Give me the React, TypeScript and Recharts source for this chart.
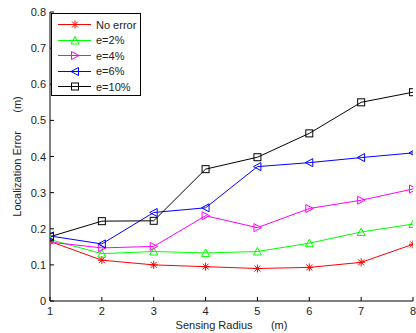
import React from "react";
import { LineChart, Line, XAxis, YAxis } from "recharts";

const radius = [1, 2, 3, 4, 5, 6, 7, 8];
const noError = [0.165, 0.113, 0.1, 0.095, 0.09, 0.093, 0.107, 0.157];
const e2 = [0.17, 0.131, 0.137, 0.133, 0.137, 0.16, 0.191, 0.213];
const e4 = [0.163, 0.147, 0.151, 0.236, 0.203, 0.256, 0.279, 0.31];
const e6 = [0.18, 0.158, 0.245, 0.258, 0.372, 0.383, 0.397, 0.41];
const e10 = [0.178, 0.221, 0.222, 0.365, 0.398, 0.464, 0.55, 0.578];
const yTicks = [0, 0.1, 0.2, 0.3, 0.4, 0.5, 0.6, 0.7, 0.8];
const xTicks = [1, 2, 3, 4, 5, 6, 7, 8];

type Shape = "star" | "up" | "right" | "left" | "square";

const series: { key: string; name: string; color: string; shape: Shape; values: number[] }[] = [
  { key: "noError", name: "No error", color: "#ff0000", shape: "star", values: noError },
  { key: "e2", name: "e=2%", color: "#00ff00", shape: "up", values: e2 },
  { key: "e4", name: "e=4%", color: "#ff00ff", shape: "right", values: e4 },
  { key: "e6", name: "e=6%", color: "#0000ff", shape: "left", values: e6 },
  { key: "e10", name: "e=10%", color: "#000000", shape: "square", values: e10 },
];

const data = radius.map((r, i) => {
  const row: Record<string, number> = { r };
  series.forEach((s) => (row[s.key] = s.values[i]));
  return row;
});

const FONT = "'Liberation Sans', Arial, sans-serif";

function Marker({ shape, cx, cy, color }: { shape: Shape; cx: number; cy: number; color: string }) {
  const s = 4;
  const common = { fill: "none", stroke: color, strokeWidth: 1 };
  if (shape === "star") {
    return (
      <g stroke={color} strokeWidth={1}>
        <line x1={cx - s} y1={cy} x2={cx + s} y2={cy} />
        <line x1={cx} y1={cy - s} x2={cx} y2={cy + s} />
        <line x1={cx - 3} y1={cy - 3} x2={cx + 3} y2={cy + 3} />
        <line x1={cx - 3} y1={cy + 3} x2={cx + 3} y2={cy - 3} />
      </g>
    );
  }
  if (shape === "square") {
    return <rect x={cx - 3.5} y={cy - 3.5} width={7} height={7} {...common} />;
  }
  let pts = "";
  if (shape === "up") pts = `${cx},${cy - s} ${cx - s},${cy + s - 0.5} ${cx + s},${cy + s - 0.5}`;
  if (shape === "right") pts = `${cx + s},${cy} ${cx - s + 0.5},${cy - s} ${cx - s + 0.5},${cy + s}`;
  if (shape === "left") pts = `${cx - s},${cy} ${cx + s - 0.5},${cy - s} ${cx + s - 0.5},${cy + s}`;
  return <polygon points={pts} {...common} />;
}

const YTick = (props: any) => {
  const { x, y, payload } = props;
  return (
    <g>
      <line x1={x} y1={y} x2={x + 4} y2={y} stroke="#000" />
      <text x={x - 4} y={y} dy={4} textAnchor="end" fontSize={11} fontFamily={FONT} fill="#222">
        {payload.value}
      </text>
    </g>
  );
};

const XTick = (props: any) => {
  const { x, y, payload } = props;
  return (
    <g>
      <line x1={x} y1={y} x2={x} y2={y - 4} stroke="#000" />
      <text x={x} y={y + 14} textAnchor="middle" fontSize={11} fontFamily={FONT} fill="#222">
        {payload.value}
      </text>
    </g>
  );
};

const YLabel = (props: any) => {
  const vb = props.viewBox;
  const cx = vb.x + 17;
  const cy = vb.y + vb.height / 2;
  return (
    <text
      x={cx}
      y={cy}
      transform={`rotate(-90 ${cx} ${cy})`}
      textAnchor="middle"
      dominantBaseline="central"
      fontSize={11}
      fontFamily={FONT}
      fill="#222"
      style={{ whiteSpace: "pre" }}
    >
      {"Localization Error      (m)"}
    </text>
  );
};

const XLabel = (props: any) => {
  const vb = props.viewBox;
  const cx = vb.x + vb.width / 2;
  const cy = vb.y + 24;
  return (
    <text
      x={cx}
      y={cy}
      textAnchor="middle"
      dominantBaseline="central"
      fontSize={11}
      fontFamily={FONT}
      fill="#222"
      style={{ whiteSpace: "pre" }}
    >
      {"Sensing Radius      (m)"}
    </text>
  );
};

function LegendBox() {
  return (
    <div
      style={{
        position: "absolute",
        left: 51,
        top: 13,
        width: 88,
        height: 81,
        border: "1px solid #000",
        background: "#fff",
        fontFamily: FONT,
        fontSize: 11,
        color: "#222",
      }}
    >
      {series.map((s, i) => (
        <div key={s.key} style={{ position: "absolute", left: 0, top: 3 + i * 15.5, height: 15, display: "flex", alignItems: "center" }}>
          <svg width={44} height={15} style={{ display: "block" }}>
            <line x1={6} y1={7.5} x2={39} y2={7.5} stroke={s.color} strokeWidth={1} />
            <Marker shape={s.shape} cx={23} cy={7.5} color={s.color} />
          </svg>
          <span style={{ whiteSpace: "nowrap" }}>{s.name}</span>
        </div>
      ))}
    </div>
  );
}

export default function App() {
  return (
    <div style={{ position: "absolute", left: 0, top: 0, width: 416, height: 333, overflow: "hidden", background: "#fff" }}>
      <LineChart width={440} height={333} data={data} margin={{ top: 12, right: 27, bottom: 0, left: 0 }}>
        <XAxis
          dataKey="r"
          type="number"
          domain={[1, 8]}
          ticks={xTicks}
          tickSize={0}
          tickMargin={0}
          tickLine={false}
          tick={<XTick />}
          stroke="#000"
          height={32}
          label={<XLabel />}
          allowDataOverflow
        />
        <YAxis
          type="number"
          domain={[0, 0.8]}
          ticks={yTicks}
          tickSize={0}
          tickMargin={0}
          tickLine={false}
          tick={<YTick />}
          stroke="#000"
          width={50}
          label={<YLabel />}
          allowDataOverflow
        />
        {series.map((s) => (
          <Line
            key={s.key}
            dataKey={s.key}
            name={s.name}
            stroke={s.color}
            strokeWidth={1}
            isAnimationActive={false}
            dot={(p: any) => <Marker key={`${s.key}-${p.index}`} shape={s.shape} cx={p.cx} cy={p.cy} color={s.color} />}
            activeDot={false}
          />
        ))}
      </LineChart>
      <LegendBox />
    </div>
  );
}
